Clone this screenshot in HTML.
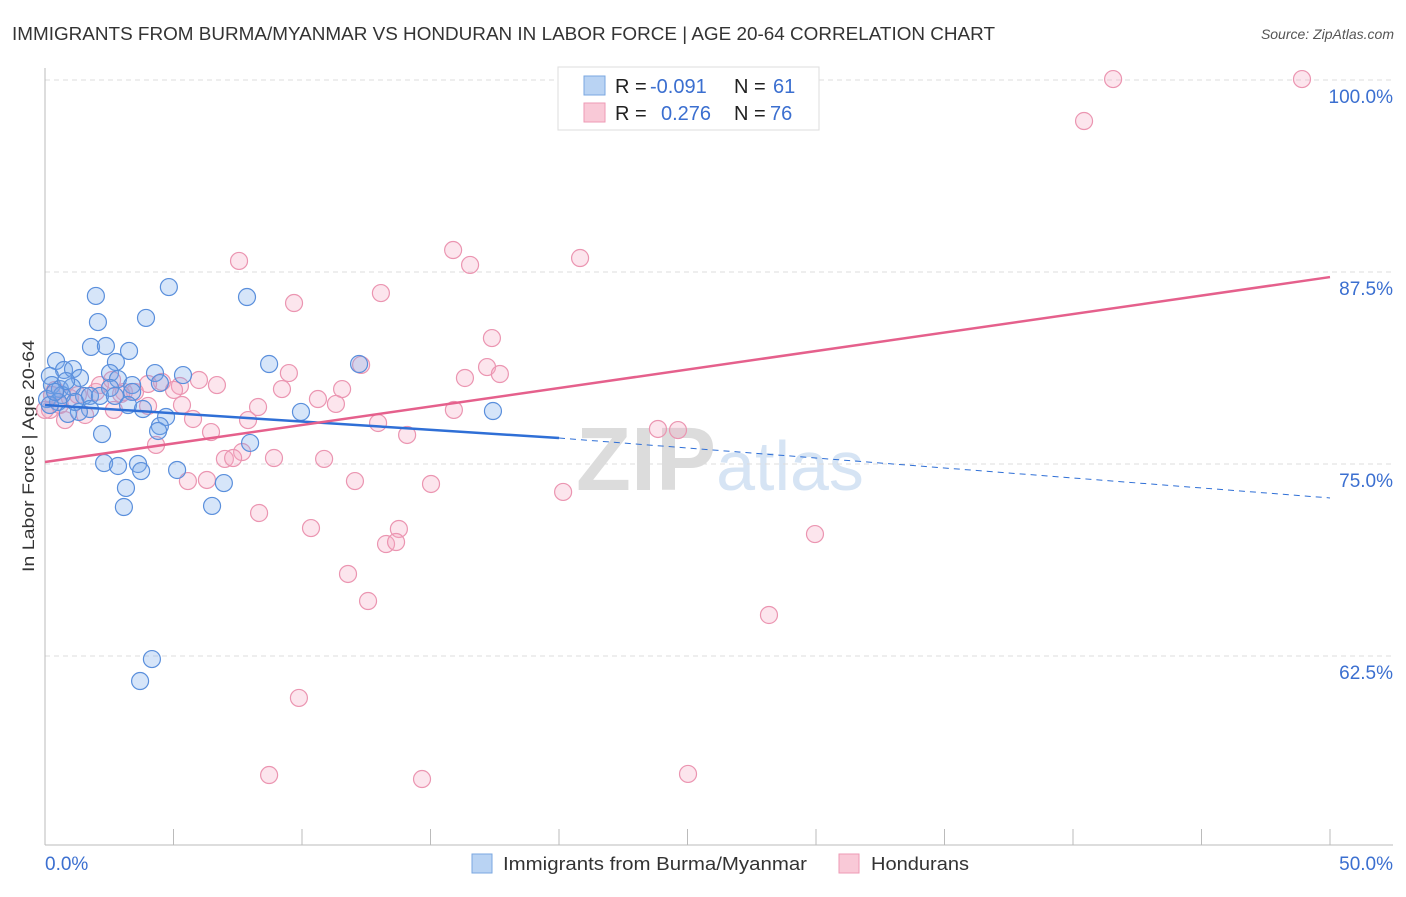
<!DOCTYPE html>
<html><head><meta charset="utf-8"><style>
body{margin:0;background:#fff;font-family:"Liberation Sans",sans-serif}
svg text{font-family:"Liberation Sans",sans-serif}
</style></head><body>
<svg id="chart" width="1406" height="892" xmlns="http://www.w3.org/2000/svg">
<text x="12" y="40" font-size="18" fill="#333" textLength="983" lengthAdjust="spacingAndGlyphs">IMMIGRANTS FROM BURMA/MYANMAR VS HONDURAN IN LABOR FORCE | AGE 20-64 CORRELATION CHART</text>
<text x="1394" y="39" font-size="14" font-style="italic" fill="#555" text-anchor="end">Source: ZipAtlas.com</text>
<text x="720" y="490" font-size="90" text-anchor="middle" fill="#e4e4e4" font-family="Liberation Serif"><tspan font-weight="bold" fill="#dcdcdc">ZIP</tspan><tspan fill="#d6e4f4" font-family="Liberation Sans" font-size="70">atlas</tspan></text>
<text transform="translate(34,456) rotate(-90)" font-size="17" fill="#333" text-anchor="middle" textLength="232" lengthAdjust="spacingAndGlyphs">In Labor Force | Age 20-64</text>
<g id="grid"></g><g id="axes"></g><g id="pink"></g><g id="blue"></g><g id="lines"></g>
<g>
<rect x="558" y="67" width="261" height="63" fill="#fff" stroke="#ddd"/>
<rect x="584" y="76" width="21" height="19" fill="#b9d3f3" stroke="#7aa7e0"/>
<rect x="584" y="103" width="21" height="19" fill="#f9c9d7" stroke="#ee9ab4"/>
<text x="615" y="93" font-size="20" fill="#222">R = <tspan fill="#3b6fd0" x="650">-0.091</tspan><tspan x="734">N = </tspan><tspan fill="#3b6fd0" x="773">61</tspan></text>
<text x="615" y="120" font-size="20" fill="#222">R = <tspan fill="#3b6fd0" x="661">0.276</tspan><tspan x="734">N = </tspan><tspan fill="#3b6fd0" x="770">76</tspan></text>
</g>
<g>
<rect x="472" y="854" width="20" height="19" fill="#b9d3f3" stroke="#7aa7e0"/>
<text x="503" y="870" font-size="18" fill="#333" textLength="304" lengthAdjust="spacingAndGlyphs">Immigrants from Burma/Myanmar</text>
<rect x="839" y="854" width="20" height="19" fill="#f9c9d7" stroke="#ee9ab4"/>
<text x="871" y="870" font-size="18" fill="#333" textLength="98" lengthAdjust="spacingAndGlyphs">Hondurans</text>
</g>
</svg>
<script>
const blueX=[1.98,4.82,7.86,2.06,3.93,1.79,2.37,3.27,0.43,2.76,8.72,12.22,0.74,1.09,2.53,4.28,5.37,0.19,1.36,2.84,0.27,3.39,0.58,1.05,4.47,3.39,2.53,0.66,1.52,0.08,0.51,1.75,2.14,2.72,3.23,3.81,1.75,1.32,0.89,4.71,9.96,17.43,4.47,2.22,4.40,7.98,2.30,2.84,3.62,3.74,5.14,3.15,6.96,3.07,6.50,4.16,3.70,0.19,0.82,0.39,1.17];
const blueY=[85.81,86.39,85.74,84.11,84.38,82.49,82.55,82.23,81.58,81.51,81.38,81.38,80.99,81.05,80.79,80.79,80.66,80.60,80.47,80.40,80.01,80.01,79.75,79.88,80.14,79.56,79.82,79.36,79.30,79.10,78.91,79.30,79.30,79.30,78.71,78.45,78.45,78.26,78.13,77.93,78.26,78.32,77.34,76.82,77.02,76.24,74.93,74.74,74.87,74.41,74.48,73.31,73.63,72.07,72.14,62.17,60.74,78.71,80.27,79.56,78.91];
const pinkX=[41.56,48.91,40.43,15.88,7.55,16.54,20.82,9.69,13.07,17.39,12.30,17.20,17.70,16.34,9.49,5.99,6.69,4.55,5.25,3.07,4.01,3.50,5.02,1.98,11.56,9.22,10.62,8.29,11.32,15.91,5.33,2.68,4.01,2.96,5.76,7.90,12.96,6.46,14.09,23.85,24.63,4.32,7.67,8.91,10.86,7.00,7.32,5.56,6.30,12.06,15.02,20.16,8.33,10.35,13.77,29.96,13.27,13.66,11.79,12.57,28.17,9.88,8.72,14.67,25.02,0.19,0.39,0.58,0.97,1.56,0.27,2.14,0.78,1.28,0.00,2.61];
const pinkY=[99.93,99.93,97.20,88.80,88.09,87.83,88.28,85.35,86.00,83.07,81.32,81.18,80.73,80.47,80.79,80.34,80.01,80.21,79.95,79.56,80.08,79.56,79.69,79.56,79.75,79.75,79.10,78.58,78.78,78.39,78.71,78.39,78.65,79.43,77.80,77.73,77.54,76.95,76.76,77.15,77.08,76.11,75.65,75.26,75.20,75.20,75.26,73.76,73.83,73.76,73.57,73.05,71.68,70.70,70.64,70.31,69.66,69.79,67.71,65.95,65.04,59.64,54.62,54.36,54.69,78.39,79.69,78.71,79.17,78.06,79.36,80.01,77.73,79.36,78.39,80.34];
const yTicks=[100,87.5,75,62.5];
const yTickLabels=["100.0%","87.5%","75.0%","62.5%"];
const blueTrendX=[0,20,50];
const blueTrendY=[78.71,76.56,72.66];
const pinkTrendX=[0,50];
const pinkTrendY=[75.0,87.04];
const NS="http://www.w3.org/2000/svg";
const sx=v=>45+v*25.7;
const sy=v=>78+(100-v)*15.36;
function mk(t,a,p){const e=document.createElementNS(NS,t);for(const k in a)e.setAttribute(k,a[k]);p.appendChild(e);return e;}
const grid=document.getElementById('grid'),axes=document.getElementById('axes');
yTicks.forEach((t,i)=>{
  const l=mk('line',{x1:45,x2:1393,y1:sy(t)+2,y2:sy(t)+2,stroke:'#ddd','stroke-dasharray':'5,4'},grid);
  
  
  const tx=mk('text',{x:1393,y:sy(t)+25,'font-size':19,fill:'#3b6fd0','text-anchor':'end'},grid);
  tx.textContent=yTickLabels[i];
  
  
});
mk('line',{x1:45,x2:45,y1:68,y2:845,stroke:'#bbb'},axes);
mk('line',{x1:45,x2:1393,y1:845,y2:845,stroke:'#bbb'},axes);
for(let i=0;i<=10;i++){const t=mk('line',{x1:sx(i*5),x2:sx(i*5),y1:829,y2:845,stroke:'#bbb'},axes);}
const xl0=mk('text',{x:45,y:870,'font-size':19,fill:'#3b6fd0'},axes);xl0.textContent='0.0%';


const xl1=mk('text',{x:1393,y:870,'font-size':19,fill:'#3b6fd0','text-anchor':'end'},axes);xl1.textContent='50.0%';


function pts(xs,ys,g,fill,stroke,name){xs.forEach((x,i)=>{const c=mk('circle',{cx:sx(x),cy:sy(ys[i]),r:8.5,fill:fill,stroke:stroke,'stroke-width':1.2},document.getElementById(g));

});}
pts(pinkX,pinkY,'pink','rgba(244,170,195,0.3)','#eb95b1','honduran-point');
pts(blueX,blueY,'blue','rgba(120,170,235,0.3)','#5a8fdc','burma-point');
const lg=document.getElementById('lines');
const bl=mk('line',{x1:sx(blueTrendX[0]),y1:sy(blueTrendY[0]),x2:sx(blueTrendX[1]),y2:sy(blueTrendY[1]),stroke:'#2f6fd6','stroke-width':2.5},lg);


const bd=mk('line',{x1:sx(blueTrendX[1]),y1:sy(blueTrendY[1]),x2:sx(blueTrendX[2]),y2:sy(blueTrendY[2]),stroke:'#2f6fd6','stroke-width':1,'stroke-dasharray':'6,5'},lg);


const pl=mk('line',{x1:sx(pinkTrendX[0]),y1:sy(pinkTrendY[0]),x2:sx(pinkTrendX[1]),y2:sy(pinkTrendY[1]),stroke:'#e5608c','stroke-width':2.5},lg);


</script>
</body></html>
